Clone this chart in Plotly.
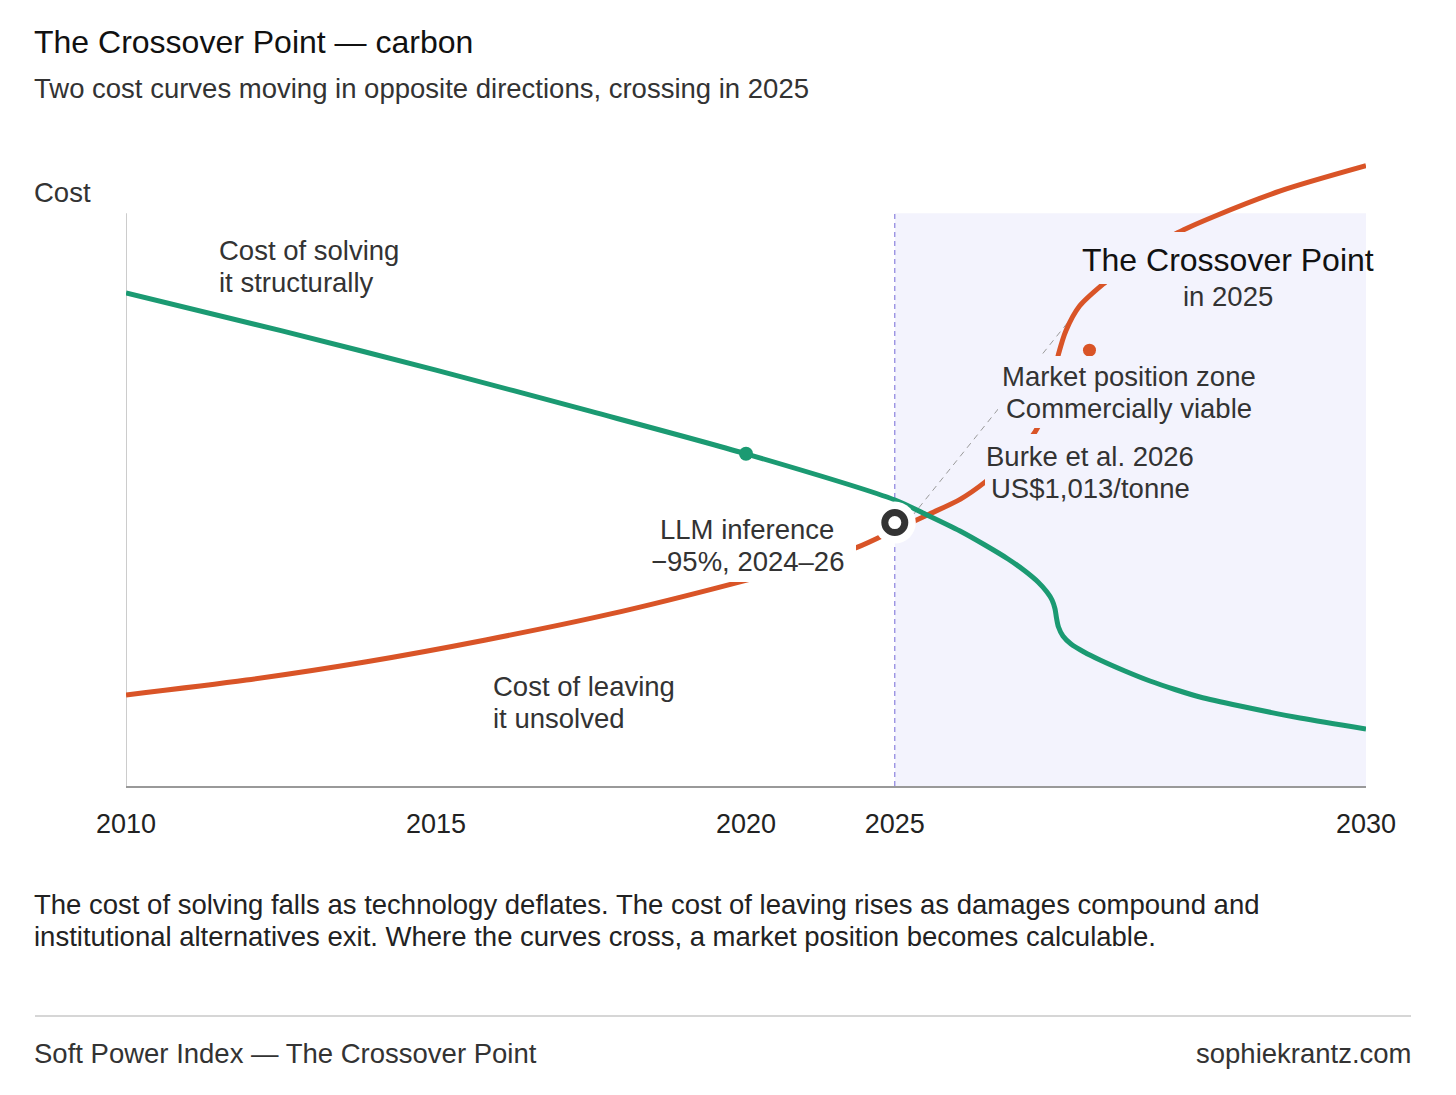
import plotly.graph_objects as go

# ---------------- data ----------------
# x = position along the timeline axis (0..100), y = relative cost (0..110)
TICK_POS = [0, 25, 50, 62, 100]
TICK_LABELS = ["2010", "2015", "2020", "2025", "2030"]

SOLVE_X = [0, 12.5, 25.0, 37.5, 50.0, 62.02, 64.27, 67.26, 69.27, 71.13, 72.50, 73.55,
           74.27, 74.68, 74.92, 75.04, 75.20, 75.56, 76.21, 77.26, 78.55, 80.56, 82.58,
           84.6, 86.61, 89.84, 94.68, 100]
SOLVE_Y = [86.1, 79.5, 72.6, 65.4, 58.0, 49.94, 47.67, 44.53, 42.08, 39.64, 37.54, 35.62,
           33.87, 32.48, 30.91, 29.33, 27.76, 26.19, 24.79, 23.40, 22.00, 20.08, 18.33,
           16.85, 15.54, 13.97, 11.87, 9.95]

LEAVE_X = [0, 9.7, 19.4, 29.0, 39.0, 48.9, 54.4, 59.0, 62.0, 64.8, 67.3, 69.3, 71.5,
           73.3, 74.5, 74.8, 75.2, 75.8, 76.9, 79.0, 81.8, 84.8, 87.7, 93.1, 100]
LEAVE_Y = [15.9, 18.5, 21.7, 25.5, 30.0, 35.3, 38.6, 41.7, 44.7, 47.5, 50.1, 53.1, 57.3,
           61.8, 67.4, 71.6, 75.4, 79.5, 83.8, 88.0, 92.7, 96.6, 99.4, 103.9, 108.3]

CROSS_X, CROSS_Y = [62.0], [46.0]          # crossover marker (2025)
SOLVE_DOT_X, SOLVE_DOT_Y = [50.0], [58.0]  # LLM inference milestone
LEAVE_DOT_X, LEAVE_DOT_Y = [77.7], [76.1]  # Burke et al. milestone
ZONE_START, ZONE_END, ZONE_TOP = 62.0, 100.0, 100.0

GREEN = "#1b9a72"
ORANGE = "#d95427"
LAVENDER = "#f3f3fd"
FONT = "Liberation Sans, Arial, sans-serif"
BODY = 27.5

W, H = 1456, 1095
L, R, T, B = 126, 1366, 156, 786  # plot area in pixels


def px(xp):
    return (xp - L) / (R - L)


def py(yp):
    return (B - yp) / (B - T)


def dx(xp):
    return (xp - L) / (R - L) * 100


def dy(yp):
    return (B - yp) / (B - T) * 110


fig = go.Figure()

fig.add_trace(go.Scatter(x=LEAVE_X, y=LEAVE_Y, mode="lines",
                         line=dict(color=ORANGE, width=5, shape="spline", smoothing=0.8),
                         hoverinfo="skip"))
fig.add_trace(go.Scatter(x=SOLVE_X, y=SOLVE_Y, mode="lines",
                         line=dict(color=GREEN, width=5, shape="spline", smoothing=0.8),
                         hoverinfo="skip"))
fig.add_trace(go.Scatter(x=SOLVE_DOT_X, y=SOLVE_DOT_Y, mode="markers",
                         marker=dict(color=GREEN, size=14), hoverinfo="skip"))
fig.add_trace(go.Scatter(x=LEAVE_DOT_X, y=LEAVE_DOT_Y, mode="markers",
                         marker=dict(color=ORANGE, size=13), hoverinfo="skip"))
fig.add_trace(go.Scatter(x=CROSS_X, y=CROSS_Y, mode="markers",
                         marker=dict(color="white", size=42, line=dict(width=0)),
                         hoverinfo="skip"))
fig.add_trace(go.Scatter(x=CROSS_X, y=CROSS_Y, mode="markers",
                         marker=dict(color="white", size=20, line=dict(color="#333333", width=7)),
                         hoverinfo="skip"))


def backing(x0, x1, y0, y1, color):
    """Opaque rectangle (in pixel terms) drawn above the curves, below the label text."""
    return dict(type="rect", xref="x", yref="y", x0=dx(x0), x1=min(dx(x1), ZONE_END),
                y0=dy(y1), y1=dy(y0), fillcolor=color, line=dict(width=0), layer="above")


shapes = [
    dict(type="rect", xref="x", yref="y", x0=ZONE_START, x1=ZONE_END, y0=0, y1=ZONE_TOP,
         fillcolor=LAVENDER, line=dict(width=0), layer="below"),
    dict(type="line", xref="x", yref="y", x0=ZONE_START, x1=ZONE_START, y0=0, y1=ZONE_TOP,
         line=dict(color="#7468d8", width=1, dash="5px,4px"), layer="below"),
    dict(type="line", xref="x", yref="y", x0=dx(905), y0=dy(525), x1=dx(1085), y1=dy(301),
         line=dict(color="#9a9a9a", width=1, dash="6px,5px"), layer="below"),
    dict(type="line", xref="x", yref="y", x0=0, x1=0, y0=0, y1=ZONE_TOP,
         line=dict(color="#999999", width=1), layer="below"),
    backing(648, 856, 509, 582, "white"),
    backing(985, 1201, 434, 508, LAVENDER),
    backing(998, 1261, 356, 428, LAVENDER),
    backing(1078, 1366, 232, 284, LAVENDER),
    dict(type="line", xref="paper", yref="paper", x0=px(35), x1=px(1411),
         y0=py(1016), y1=py(1016), line=dict(color="#c8c8c8", width=1.5)),
]

annotations = []


def label(text, x, y, size=BODY, color="#333333", xanchor="center"):
    annotations.append(dict(text=text, x=px(x), y=py(y), xref="paper", yref="paper",
                            showarrow=False, xanchor=xanchor, yanchor="middle",
                            font=dict(family=FONT, size=size, color=color)))


label("The Crossover Point — carbon", 32, 42, size=32, color="#111111", xanchor="left")
label("Two cost curves moving in opposite directions, crossing in 2025", 32, 89,
      xanchor="left")
label("Cost", 32, 192, xanchor="left")

label("Cost of solving", 217, 250, xanchor="left")
label("it structurally", 217, 282, xanchor="left")
label("Cost of leaving", 491, 686, xanchor="left")
label("it unsolved", 491, 718, xanchor="left")

label("LLM inference", 747, 529)
label("−95%, 2024–26", 747, 561)
label("Burke et al. 2026", 1090, 456)
label("US$1,013/tonne", 1090, 488)
label("Market position zone", 1129, 376)
label("Commercially viable", 1129, 408)
label("The Crossover Point", 1228, 260, size=32, color="#111111")
label("in 2025", 1228, 296)

label("The cost of solving falls as technology deflates. The cost of leaving rises as "
      "damages compound and", 32, 904, xanchor="left", color="#222222")
label("institutional alternatives exit. Where the curves cross, a market position "
      "becomes calculable.", 32, 936, xanchor="left", color="#222222")
label("Soft Power Index — The Crossover Point", 32, 1053, xanchor="left")
label("sophiekrantz.com", 1414, 1053, xanchor="right")

fig.update_layout(
    width=W, height=H,
    margin=dict(l=L, r=W - R, t=T, b=H - B),
    paper_bgcolor="white", plot_bgcolor="white",
    showlegend=False,
    shapes=shapes,
    annotations=annotations,
    font=dict(family=FONT, color="#333333"),
    xaxis=dict(range=[0, 100], tickvals=TICK_POS, ticktext=TICK_LABELS,
               showgrid=False, zeroline=False, showline=True, linecolor="#999999",
               linewidth=1.5, ticks="outside", ticklen=13, tickcolor="rgba(0,0,0,0)",
               tickfont=dict(family=FONT, size=27, color="#222222")),
    yaxis=dict(range=[0, 110], visible=False, showgrid=False, zeroline=False),
)

fig.write_html("out.html")
